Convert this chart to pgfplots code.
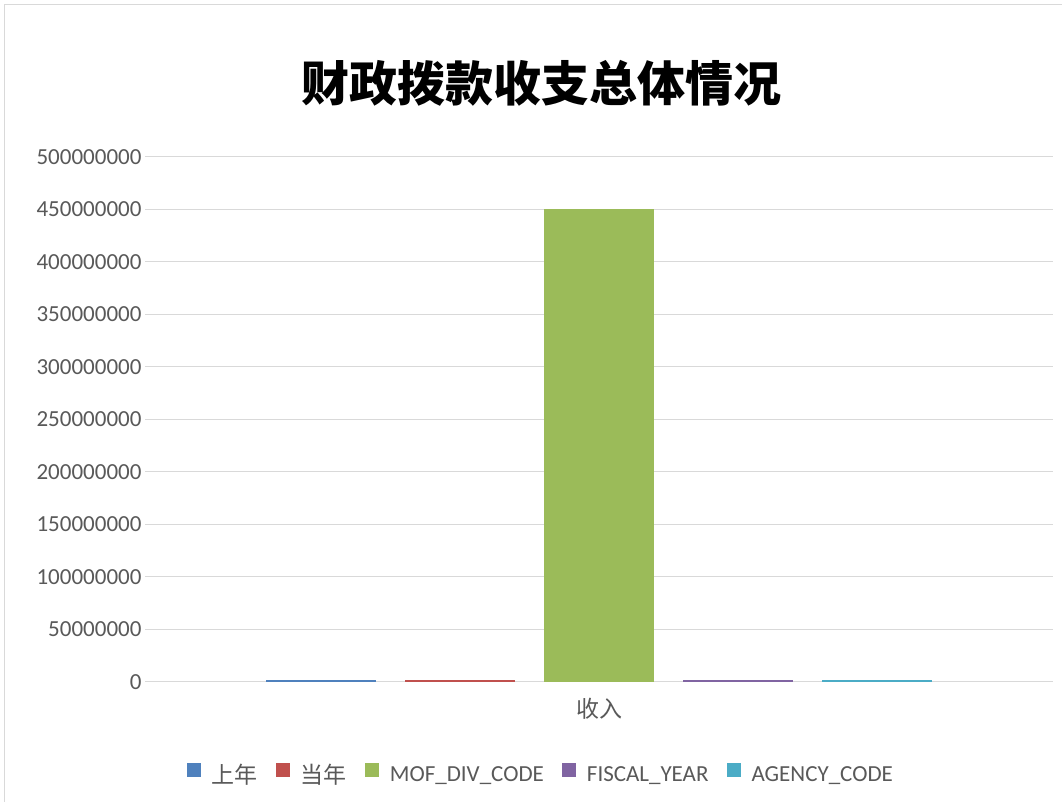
\documentclass[border=0pt]{standalone}
\usepackage{fontspec}
\setmainfont{Carlito}
\newfontfamily\cjk{Noto Sans CJK SC}
\usepackage{pgfplots}
\pgfplotsset{compat=1.18}
\definecolor{c1}{HTML}{4F81BD}
\definecolor{c2}{HTML}{C0504D}
\definecolor{c3}{HTML}{9BBB59}
\definecolor{c4}{HTML}{8064A2}
\definecolor{c5}{HTML}{4BACC6}
\definecolor{txt}{HTML}{595959}
\definecolor{gridc}{HTML}{D9D9D9}
\pgfplotsset{sqleg/.style={legend image code/.code={\fill[##1,draw=none] (0pt,-3pt) rectangle (14pt,11pt); \path (23pt,0pt);}}}
\begin{document}
\begin{tikzpicture}[x=1pt,y=1pt]
\useasboundingbox (0,0) rectangle (1062,802);
\fill[white] (0,0) rectangle (1062,802);
\draw[gridc, line width=1.2pt] (4.5,-5) -- (4.5,797.5) -- (1070,797.5);
\node[font=\fontsize{48}{56}\selectfont\cjk\bfseries] at (541,719) {财政拨款收支总体情况};
\begin{axis}[at={(145pt,120pt)}, anchor=south west, scale only axis,
  width=908pt, height=525pt,
  xmin=-0.5, xmax=0.5, ymin=0, ymax=500000000,
  ytick={0,50000000,100000000,150000000,200000000,250000000,300000000,350000000,400000000,450000000,500000000},
  yticklabels={0,50000000,100000000,150000000,200000000,250000000,300000000,350000000,400000000,450000000,500000000},
  scaled y ticks=false,
  yticklabel style={font=\fontsize{23}{28}\selectfont, text=txt},
  ymajorgrids, grid style={gridc, line width=1pt},
  axis line style={draw=none}, major tick length=0pt,
  xtick={0}, xticklabels={{\cjk 收入}},
  xticklabel style={font=\fontsize{23}{28}\selectfont, text=txt, yshift=-13pt},
  ybar=29pt, bar width=110pt,
  axis on top=false,
  legend columns=5,
  legend style={draw=none, fill=none, at={(0.436,-0.176)}, anchor=center,
    font=\fontsize{23}{28}\selectfont, text=txt,
    /tikz/every even column/.append style={column sep=16pt}},
]
\addplot[fill=c1, draw=none, sqleg] coordinates {(0,2200000)};
\addplot[fill=c2, draw=none, sqleg] coordinates {(0,2200000)};
\addplot[fill=c3, draw=none, sqleg] coordinates {(0,450000000)};
\addplot[fill=c4, draw=none, sqleg] coordinates {(0,2200000)};
\addplot[fill=c5, draw=none, sqleg] coordinates {(0,2200000)};
\legend{{\cjk 上年},{\cjk 当年},MOF\_DIV\_CODE,FISCAL\_YEAR,AGENCY\_CODE}
\end{axis}
\end{tikzpicture}
\end{document}
